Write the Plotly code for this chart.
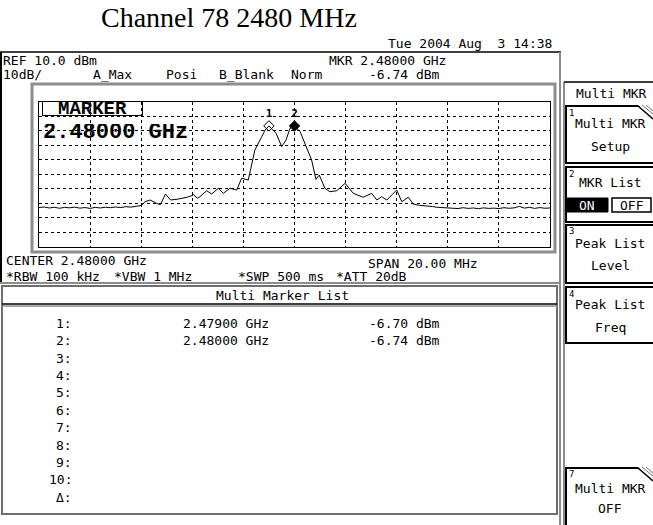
import plotly.graph_objects as go

# ---------------- data ----------------
freq_ghz = [
    2.4700, 2.4702, 2.4704, 2.4706, 2.4708, 2.4710, 2.4712, 2.4714, 2.4716, 2.4718,
    2.4720, 2.4722, 2.4724, 2.4726, 2.4728, 2.4730, 2.4732, 2.4734, 2.4736, 2.4738,
    2.4740, 2.47415, 2.47435, 2.4746, 2.47475, 2.47495, 2.47515, 2.4754, 2.4756, 2.4758,
    2.47605, 2.4762, 2.4763, 2.47656, 2.47676, 2.47702, 2.47721, 2.47748, 2.47774, 2.47793,
    2.47819, 2.47845, 2.47872, 2.47885, 2.47900, 2.47928, 2.47950, 2.47967, 2.47982, 2.48000,
    2.48022, 2.48048, 2.48067, 2.48084, 2.48097, 2.48119, 2.48139, 2.48165, 2.48198, 2.48230,
    2.48269, 2.48302, 2.48322, 2.48341, 2.48361, 2.48400, 2.48420, 2.48445, 2.48465, 2.48490,
    2.48517, 2.48540, 2.48557, 2.48580, 2.48596, 2.48620, 2.48640, 2.48660, 2.48680, 2.48700,
    2.48720, 2.48740, 2.48760, 2.48780, 2.48800, 2.48820, 2.48840, 2.48860, 2.48880, 2.48900,
    2.48920, 2.48940, 2.48960, 2.48980, 2.49000,
]
level_dbm = [
    -63.0, -62.6, -63.3, -62.8, -63.5, -62.9, -63.2, -62.7, -63.4, -63.0,
    -63.6, -62.9, -63.3, -62.8, -63.1, -62.6, -63.0, -62.4, -62.7, -62.2,
    -61.6, -59.0, -57.8, -60.1, -61.0, -53.7, -57.8, -57.3, -56.5, -55.9,
    -54.3, -56.6, -55.5, -51.4, -53.7, -49.7, -53.2, -49.7, -50.9, -42.8,
    -44.0, -23.3, -14.1, -9.5, -6.70, -11.8, -21.0, -16.4, -8.5, -6.74,
    -10.7, -22.1, -30.2, -43.5, -40.6, -49.7, -52.1, -51.4, -46.3, -53.2,
    -55.9, -53.2, -57.8, -55.5, -57.8, -50.9, -59.0, -55.9, -60.6, -61.5,
    -61.7, -62.3, -62.8, -63.0, -63.5, -63.2, -63.7, -63.1, -63.6, -63.3,
    -63.8, -63.2, -63.6, -63.4, -63.7, -63.1, -63.5, -63.2, -62.2, -63.4,
    -62.8, -63.6, -63.0, -63.5, -63.3,
]
marker_freq_ghz = [2.47900, 2.48000]
marker_level_dbm = [-6.70, -6.74]
marker_ids = ["1", "2"]
list_labels = ["1:", "2:", "3:", "4:", "5:", "6:", "7:", "8:", "9:", "10:", "\u0394:"]
list_freqs = ["2.47900 GHz", "2.48000 GHz"]
list_levels = ["-6.70 dBm", "-6.74 dBm"]

title_text = "Channel 78 2480 MHz"
freq_start, freq_stop = 2.470, 2.490
ref_level, bottom_level = 10, -90

# ---------------- layout helpers ----------------
W, H = 653, 525


def X(px):
    return px / W


def Y(py):
    return 1 - py / H


SMALL = dict(family="DejaVu Sans Mono", size=13, color="black")

fig = go.Figure()
fig.add_trace(go.Scatter(x=freq_ghz, y=level_dbm, mode="lines",
                         line=dict(color="black", width=1), hoverinfo="skip"))
fig.add_trace(go.Scatter(x=marker_freq_ghz, y=marker_level_dbm, mode="markers+text",
                         text=marker_ids, textposition="top center",
                         textfont=dict(family="DejaVu Sans Mono", size=11, color="black",
                                       weight="bold"),
                         marker=dict(symbol=["diamond-open", "diamond"], size=8,
                                     color="black", line=dict(color="black", width=1)),
                         hoverinfo="skip"))

shapes = []
ann = []


def rect(x0, y0, x1, y1, color="black", width=1, fill=None):
    d = dict(type="rect", xref="paper", yref="paper", x0=X(x0), x1=X(x1), y0=Y(y0), y1=Y(y1),
             line=dict(color=color, width=width), layer="above")
    if fill:
        d["fillcolor"] = fill
    shapes.append(d)


def line(x0, y0, x1, y1, color="black", width=1):
    shapes.append(dict(type="line", xref="paper", yref="paper", x0=X(x0), x1=X(x1),
                       y0=Y(y0), y1=Y(y1), line=dict(color=color, width=width), layer="above"))


def text(s, x, y, anchor="left", font=SMALL, color=None, h=None, **kw):
    f = dict(font)
    if color:
        f["color"] = color
    d = dict(text=s, x=X(x), y=Y(y), xref="paper", yref="paper", xanchor=anchor,
             yanchor="middle", showarrow=False, font=f, borderpad=0)
    if h is not None:
        d["height"] = h
    d.update(kw)
    ann.append(d)


# title and date
text(title_text, 229, 18, "center", dict(family="Liberation Serif", size=28, color="black"))
text("Tue 2004 Aug\u00a0\u00a03 14:38", 553, 44, "right")

# upper box
line(1, 52, 1, 283, "black", 2)
line(0, 52, 561, 52, "black", 1.5)
# plot bevel frame
rect(32, 84, 555, 252, "#8c8c8c", 3)

# header texts
text("REF 10.0 dBm", 2, 60, h=11)
text("10dB/", 2, 75, h=13)
text("A_Max", 92, 75, h=15)
text("Posi", 165, 75, h=13)
text("B_Blank", 218, 75, h=15)
text("Norm", 290, 75, h=13)
text("MKR 2.48000 GHz", 328, 60, h=11)
text("-6.74 dBm", 368, 75, h=13)

# marker readout inside the graticule
text("MARKER", 92.5, 108.5, "center",
     dict(family="Liberation Mono", size=19, color="black", weight="bold"),
     h=13, width=99, bordercolor="black", borderwidth=1, bgcolor="rgba(255,255,255,0)")
text("2.48000 GHz", 42, 131.5, "left",
     dict(family="Liberation Mono", size=22, color="black", weight="bold"), h=16)

# bottom settings
text("CENTER 2.48000 GHz", 5, 260, h=12)
text("SPAN 20.00 MHz", 367, 263, h=12)
text("*RBW 100 kHz", 5, 276, h=13)
text("*VBW 1 MHz", 113, 276, h=13)
text("*SWP 500 ms", 237, 276, h=13)
text("*ATT 20dB", 335, 276, h=13)
line(0, 283, 561, 283, "#8c8c8c", 2)

# multi marker list box
rect(2, 286, 557, 514, "#6e6e6e", 2)
line(2, 304, 557, 304, "black", 1.5)
line(2, 306, 557, 306, "#8c8c8c", 1.5)
text("Multi Marker List", 282, 295, "center")
for i, lab in enumerate(list_labels):
    text(lab, 73, 323.3 + i * 17.4, "right")
for i, fv in enumerate(list_freqs):
    text(fv, 182, 323.3 + i * 17.4)
for i, lv in enumerate(list_levels):
    text(lv, 368, 323.3 + i * 17.4)

# right panel separator
line(560, 52, 560, 525, "#8c8c8c", 2)
line(564, 82, 564, 525, "#8c8c8c", 2)
line(564, 82, 653, 82, "black", 1.5)
text("Multi MKR", 611, 94, "center")


def key(y0, y1, num, lines_, folded=False):
    rect(566, y0, 660, y1, "black", 2)
    if folded:
        shapes.append(dict(type="path", xref="paper", yref="paper",
                           path=f"M {X(638)} {Y(y0 - 1)} L {X(655)} {Y(y0 - 1)} L {X(655)} {Y(y0 + 14)} Z",
                           fillcolor="white", line=dict(color="white", width=0), layer="above"))
        line(638, y0, 653, y0 + 13, "black", 1.5)
        line(642, y0 - 1, 653, y0 + 8, "#777777", 1)
        line(646, y0 - 1, 653, y0 + 5, "#777777", 1)
    text(num, 568, y0 + 6, "left", dict(family="DejaVu Sans Mono", size=9, color="black"), h=9)
    for s, yy in lines_:
        text(s, 610, yy, "center")


key(106, 163, "1", [("Multi MKR", 124), ("Setup", 146)], folded=True)
key(167, 222, "2", [("MKR List", 183)])
rect(566, 198, 608, 212, "black", 1, fill="black")
text("ON", 587, 205, "center", color="white", h=12)
rect(612, 198, 651, 212, "black", 1.5)
text("OFF", 631.5, 205, "center", h=12)
key(225, 283, "3", [("Peak List", 244), ("Level", 265)])
key(287, 343, "4", [("Peak List", 304), ("Freq", 327)])
key(468, 530, "7", [("Multi MKR", 488), ("OFF", 508)], folded=True)

axis_common = dict(showticklabels=False, ticks="", showgrid=True, gridcolor="black",
                   griddash="dot", gridwidth=1, zeroline=False, showline=True,
                   linecolor="black", linewidth=1, mirror=True)

fig.update_layout(
    width=W, height=H, autosize=False,
    margin=dict(l=0, r=0, t=0, b=0),
    paper_bgcolor="white", plot_bgcolor="white",
    showlegend=False,
    xaxis=dict(range=[freq_start, freq_stop], dtick=0.002, tick0=freq_start,
               domain=[X(39), X(550)], **axis_common),
    yaxis=dict(range=[bottom_level, ref_level], dtick=10, tick0=bottom_level,
               domain=[Y(246.7), Y(101.7)], **axis_common),
    shapes=shapes,
    annotations=ann,
)

fig.write_html("out.html", config={"displayModeBar": False},
               post_script="document.body.style.margin='0';")
